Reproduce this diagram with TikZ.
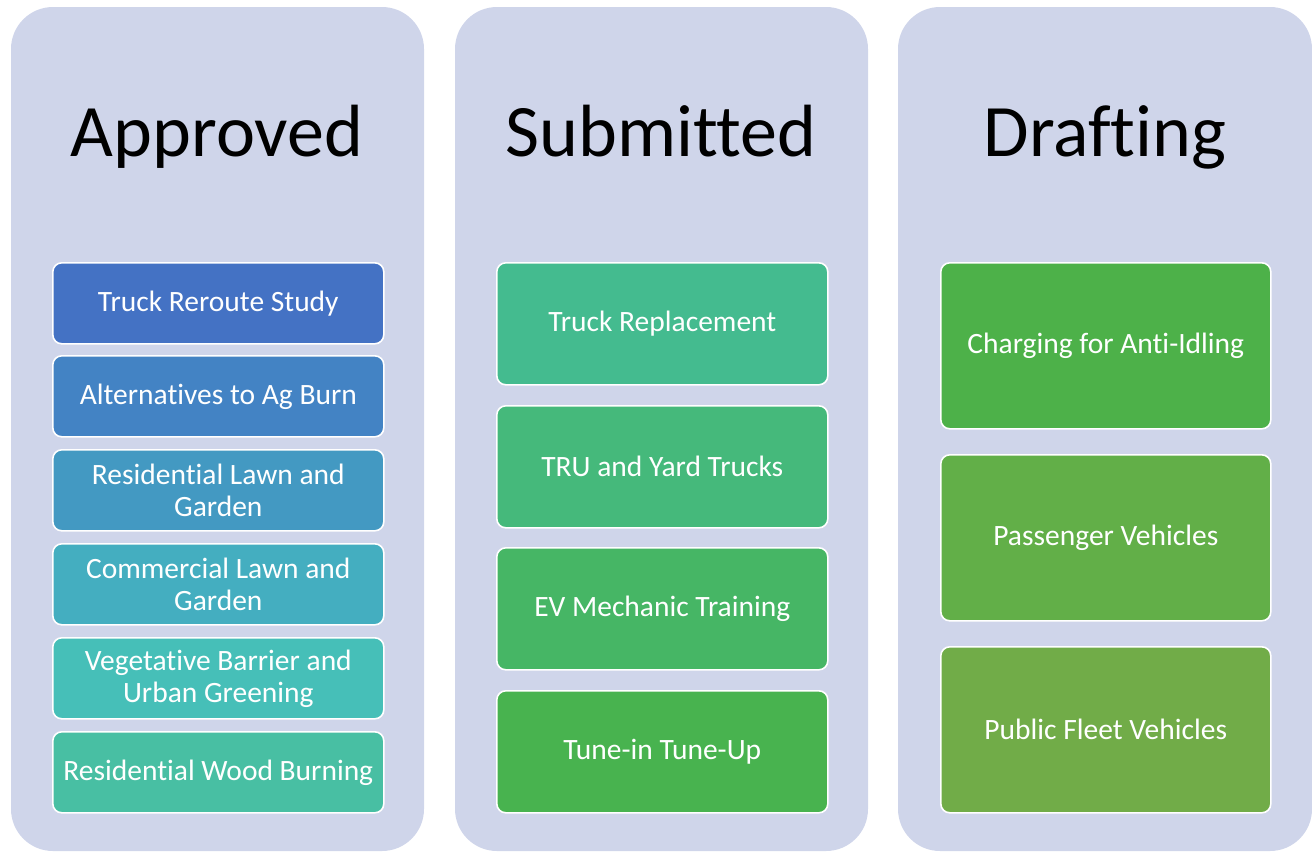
\documentclass[tikz,border=0pt]{standalone}
\usepackage{fontspec}
\setmainfont[Ligatures=NoCommon]{Carlito}
\definecolor{laneBG}{HTML}{CFD5EA}
\definecolor{cA}{HTML}{4472C4}
\definecolor{cB}{HTML}{4383C4}
\definecolor{cC}{HTML}{4399C2}
\definecolor{cD}{HTML}{44AEC0}
\definecolor{cE}{HTML}{46BFB8}
\definecolor{cF}{HTML}{48BFA3}
\definecolor{cG}{HTML}{44BB8F}
\definecolor{cH}{HTML}{45B97B}
\definecolor{cI}{HTML}{46B665}
\definecolor{cJ}{HTML}{48B34F}
\definecolor{cK}{HTML}{4DB149}
\definecolor{cL}{HTML}{62AF48}
\definecolor{cM}{HTML}{71AC48}
\begin{document}
\begin{tikzpicture}[x=1pt,y=-1pt,
	lane/.style={fill=laneBG,rounded corners=42pt},
	head/.style={anchor=base,font=\fontsize{74}{80}\selectfont},
	item/.style={draw=white,line width=1.6pt,rounded corners=9pt,text=white,align=center,inner sep=0pt,
		anchor=north west,font=\fontsize{29.5}{32}\selectfont}]
	\useasboundingbox (0,0) rectangle (1312,852);
	% lanes
	\fill[lane] (11,7) rectangle (424,851);
	\fill[lane] (455,7) rectangle (868,851);
	\fill[lane] (898,7) rectangle (1312,851);
	\node[head] (approved) at (217,156) {Approved};
	\node[head] (submitted) at (661,156) {Submitted};
	\node[head] (drafting) at (1105,156) {Drafting};
	% approved
	\node[item,fill=cA,minimum width=331pt,minimum height=81pt] (a1) at (52,262) {Truck Reroute Study};
	\node[item,fill=cB,minimum width=331pt,minimum height=81pt] (a2) at (52,355) {Alternatives to Ag Burn};
	\node[item,fill=cC,minimum width=331pt,minimum height=81pt] (a3) at (52,449) {Residential Lawn and\\Garden};
	\node[item,fill=cD,minimum width=331pt,minimum height=81pt] (a4) at (52,543) {Commercial Lawn and\\Garden};
	\node[item,fill=cE,minimum width=331pt,minimum height=81pt] (a5) at (52,637) {Vegetative Barrier and\\Urban Greening};
	\node[item,fill=cF,minimum width=331pt,minimum height=81pt] (a6) at (52,731) {Residential Wood Burning};
	% submitted
	\node[item,fill=cG,minimum width=331pt,minimum height=122pt] (s1) at (496,262) {Truck Replacement};
	\node[item,fill=cH,minimum width=331pt,minimum height=122pt] (s2) at (496,405) {TRU and Yard Trucks};
	\node[item,fill=cI,minimum width=331pt,minimum height=122pt] (s3) at (496,547) {EV Mechanic Training};
	\node[item,fill=cJ,minimum width=331pt,minimum height=122pt] (s4) at (496,690) {Tune-in Tune-Up};
	% drafting
	\node[item,fill=cK,minimum width=330pt,minimum height=166pt] (d1) at (940,262) {Charging for Anti-Idling};
	\node[item,fill=cL,minimum width=330pt,minimum height=166pt] (d2) at (940,454) {Passenger Vehicles};
	\node[item,fill=cM,minimum width=330pt,minimum height=166pt] (d3) at (940,646) {Public Fleet Vehicles};
\end{tikzpicture}
\end{document}
